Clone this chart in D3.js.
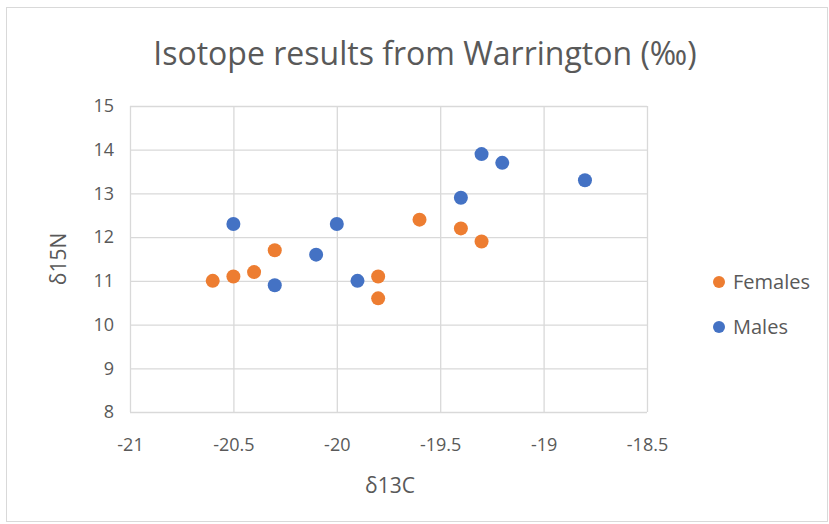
<!DOCTYPE html>
<html>
<head>
<meta charset="utf-8">
<script src="https://cdn.jsdelivr.net/npm/d3@7"></script>
<style>
  body { margin: 0; background: #fff; }
  text { font-family: "Open Sans", "Liberation Sans", sans-serif; fill: #595959; }
</style>
</head>
<body>
<div id="chart"></div>
<script>
// ----- dati
var femalesC = [-20.6, -20.5, -20.4, -20.3, -19.8, -19.8, -19.6, -19.4, -19.3];
var femalesN = [11.0, 11.1, 11.2, 11.7, 11.1, 10.6, 12.4, 12.2, 11.9];
var malesC = [-20.5, -20.3, -20.1, -20.0, -19.9, -19.4, -19.3, -19.2, -18.8];
var malesN = [12.3, 10.9, 11.6, 12.3, 11.0, 12.9, 13.9, 13.7, 13.3];
var xTicks = [-21, -20.5, -20, -19.5, -19, -18.5];
var yTicks = [8, 9, 10, 11, 12, 13, 14, 15];
var seriesNames = ["Females", "Males"];
var seriesColors = ["#ED7D31", "#4472C4"];

var w = 829, h = 524;
var plot = { left: 130, right: 647, top: 106, bottom: 412 };

var svg = d3.select('#chart').append('svg').attr('width', w).attr('height', h);

// ----- bordo del grafico
svg.append('rect')
    .attr('x', 6.5).attr('y', 7.5)
    .attr('width', w - 8).attr('height', h - 10)
    .attr('fill', '#fff').attr('stroke', '#d9d9d9');

var x = d3.scaleLinear().domain([-21, -18.5]).range([plot.left, plot.right]);
var y = d3.scaleLinear().domain([8, 15]).range([plot.bottom, plot.top]);

// ----- trattino normale al posto del segno meno unicode
function tickFmt(d) { return String(d); }

// ----- griglia
var xAxis = d3.axisBottom(x).tickValues(xTicks).tickSize(-(plot.bottom - plot.top)).tickFormat(tickFmt).tickPadding(26);
var yAxis = d3.axisLeft(y).tickValues(yTicks).tickSize(-(plot.right - plot.left)).tickFormat(tickFmt).tickPadding(16);

var gx = svg.append('g').attr('transform', 'translate(0,' + plot.bottom + ')').call(xAxis);
var gy = svg.append('g').attr('transform', 'translate(' + plot.left + ',0)').call(yAxis);

[gx, gy].forEach(function (g) {
    g.select('.domain').remove();
    g.selectAll('line').attr('stroke', '#d9d9d9').attr('stroke-width', 1.3);
    g.selectAll('text').style('font-size', '18px').attr('fill', '#595959');
});

// ----- titoli
svg.append('text')
    .attr('x', 425).attr('y', 65)
    .attr('text-anchor', 'middle')
    .style('font-size', '32px')
    .text('Isotope results from Warrington (‰)');

svg.append('text')
    .attr('x', 390).attr('y', 493)
    .attr('text-anchor', 'middle')
    .style('font-size', '21px')
    .text('δ13C');

svg.append('text')
    .attr('transform', 'translate(66,' + 259 + ') rotate(-90)')
    .attr('text-anchor', 'middle')
    .style('font-size', '21px')
    .text('δ15N');

// ----- punti
var series = [
    { name: seriesNames[0], color: seriesColors[0], c: femalesC, n: femalesN },
    { name: seriesNames[1], color: seriesColors[1], c: malesC, n: malesN }
];

series.forEach(function (s) {
    svg.append('g').selectAll('circle')
        .data(s.c.map(function (v, i) { return { c: v, n: s.n[i] }; }))
        .enter().append('circle')
        .attr('cx', function (d) { return x(d.c); })
        .attr('cy', function (d) { return y(d.n); })
        .attr('r', 7)
        .attr('fill', s.color);
});

// ----- legenda
var legend = svg.append('g').attr('transform', 'translate(719,282)');
series.forEach(function (s, i) {
    var g = legend.append('g').attr('transform', 'translate(0,' + (i * 45) + ')');
    g.append('circle').attr('r', 6).attr('fill', s.color);
    g.append('text').attr('x', 14).attr('dy', '0.35em').style('font-size', '20px').text(s.name);
});
</script>
</body>
</html>
